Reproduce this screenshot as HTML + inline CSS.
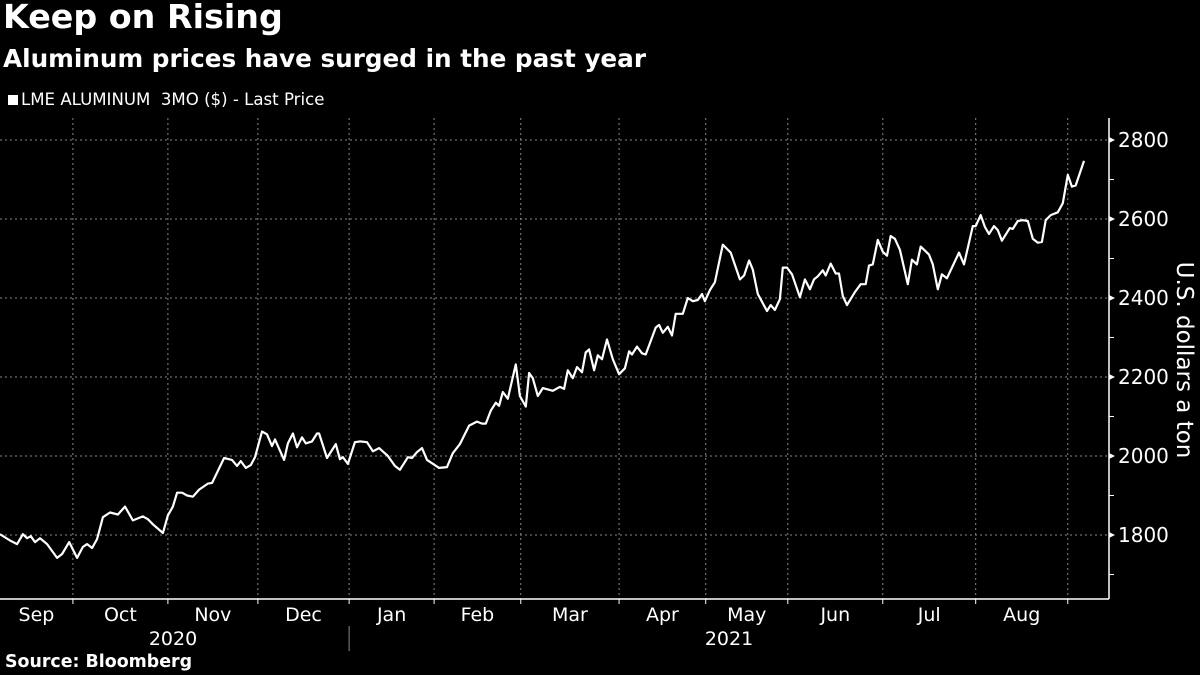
<!DOCTYPE html>
<html><head><meta charset="utf-8"><style>
html,body{margin:0;padding:0;background:#000;}
body{width:1200px;height:675px;overflow:hidden;position:relative;font-family:"DejaVu Sans","Liberation Sans",sans-serif;color:#fff;}
.t{position:absolute;white-space:nowrap;}
</style></head><body>
<div class="t" style="left:3px;top:-3px;font-size:33.3px;font-weight:bold;">Keep on Rising</div>
<div class="t" style="left:3px;top:44px;font-size:24.7px;font-weight:bold;">Aluminum prices have surged in the past year</div>
<div class="t" style="left:8px;top:90px;font-size:16.6px;"><span style="display:inline-block;width:10px;height:10px;background:#fff;margin-right:3px;"></span>LME ALUMINUM&nbsp; 3MO ($) - Last Price</div>
<svg id="chart" width="1200" height="675" style="position:absolute;left:0;top:0;" xmlns="http://www.w3.org/2000/svg"></svg>
<div class="t" style="left:5px;top:652px;font-size:17.4px;font-weight:bold;">Source: Bloomberg</div>
<script>
const days=[0,2.4,4.1,5.5,6.5,7.4,8.4,9.6,11.3,13.7,14.9,16.6,18.5,19.9,20.9,22.1,23.3,24.7,26.4,28.3,30,31.9,34.3,35.5,36.7,39.1,40.3,41.5,42.5,43.7,44.9,46.3,47.8,49.9,50.9,53.8,55.7,56.9,57.8,59,60.2,61.2,62.9,64.1,65.3,66,68.2,69.1,70.3,71.3,72.5,73.4,74.9,76.1,76.6,78.5,80.6,81.6,82.3,83.5,85.2,86.4,88.1,89.5,91,93.1,94.8,96,97.9,98.9,100.1,101.3,102.5,105.4,107.3,108.7,110.4,112.6,114.5,115.7,116.6,117.8,119,119.8,120.7,121.9,123.8,124.8,126.2,127,127.9,129.1,130.3,132.7,134.4,135.4,136.3,137.5,138.5,139.7,140.6,141.4,142.6,143.5,144.5,145.7,147.1,148.6,150,151,151.7,152.9,154.1,155,157.4,158.2,159.1,160.3,161.3,162.2,163.9,165.1,166.3,167.5,168.5,169.2,170.4,171.6,173.5,175.4,177.6,178.6,179.8,180.7,181.9,184.1,185,186,187.2,187.9,188.9,190.1,192,193.2,194.4,195.4,196.3,197.5,198.2,199.4,200.6,201.4,202.3,203.3,205.2,206.6,207.8,208.6,209.5,210.7,211.9,212.9,213.8,214.8,216,217.9,218.9,220.1,221,223,223.9,225.1,226.1,227.3,230.2,231.4,233.5,234.2,235.4,236.4,237.4,238.6,239.5,240.5,242.4,243.1,244.3,245.5,246.7,247.9,249.1,250.1,251,252.2,253.9,255.1,256.3,257.3,258.2,260.2];
const prices=[1802,1786,1777,1802,1792,1797,1782,1792,1777,1742,1752,1782,1742,1770,1777,1767,1790,1845,1857,1852,1872,1837,1847,1840,1827,1805,1850,1872,1907,1907,1900,1897,1915,1930,1932,1995,1990,1975,1987,1970,1977,1997,2062,2055,2025,2042,1990,2032,2057,2022,2047,2032,2037,2057,2057,1995,2030,1992,1997,1980,2035,2037,2035,2012,2020,2000,1975,1965,1997,1995,2010,2020,1990,1970,1972,2007,2030,2077,2087,2082,2082,2115,2135,2127,2162,2145,2232,2152,2125,2210,2197,2152,2172,2165,2175,2170,2217,2197,2225,2212,2262,2270,2217,2255,2245,2295,2245,2207,2222,2265,2257,2277,2260,2257,2325,2332,2312,2327,2305,2360,2360,2400,2392,2395,2410,2392,2420,2440,2535,2515,2447,2457,2495,2472,2410,2367,2382,2370,2397,2477,2477,2460,2402,2447,2422,2447,2455,2470,2457,2487,2462,2462,2405,2382,2415,2435,2435,2482,2485,2547,2517,2507,2557,2550,2522,2435,2497,2485,2530,2510,2485,2422,2460,2450,2515,2485,2582,2582,2610,2580,2562,2582,2572,2545,2577,2575,2595,2597,2595,2550,2540,2542,2597,2610,2617,2640,2712,2682,2685,2747];
const monthStarts=[17.5,40.3,61.9,83.8,104.2,125,148.6,169.4,189.1,211.9,234.2,256.3];
const monthLabels=["Sep","Oct","Nov","Dec","Jan","Feb","Mar","Apr","May","Jun","Jul","Aug"];
const yTicks=[1800,2000,2200,2400,2600,2800];
const yMinor=[1700,1900,2100,2300,2500,2700];
const years=["2020","2021"];

const NS="http://www.w3.org/2000/svg";
const svg=document.getElementById('chart');
const X0=0,X1=1109,D1=266.2;
function xs(d){return X0+(X1-X0)*d/D1;}
function ys(v){return 535-(v-1800)*0.395;}
function mk(tag,attrs,parent){const e=document.createElementNS(NS,tag);for(const k in attrs)e.setAttribute(k,attrs[k]);(parent||svg).appendChild(e);return e;}
const PT=118,PB=599;
yTicks.forEach(v=>{
 const l=mk('line',{x1:0,x2:X1,y1:ys(v),y2:ys(v),stroke:'#888','stroke-width':1,'stroke-dasharray':'2,3'});
 
 
});
monthStarts.forEach((d,i)=>{
 const l=mk('line',{x1:xs(d),x2:xs(d),y1:PT,y2:PB,stroke:'#888','stroke-width':1,'stroke-dasharray':'2,3'});
 
 
 const t=mk('line',{x1:xs(d),x2:xs(d),y1:PB,y2:PB+5,stroke:'#fff','stroke-width':1});
 
 
});
const ax=mk('line',{x1:0,x2:X1,y1:PB,y2:PB,stroke:'#fff','stroke-width':1.5});


const ay=mk('line',{x1:X1,x2:X1,y1:PT,y2:PB,stroke:'#fff','stroke-width':1.5});


yTicks.forEach(v=>{
 const p=mk('path',{d:`M${X1} ${ys(v)-3} L${X1+6} ${ys(v)} L${X1} ${ys(v)+3}Z`,fill:'#fff'});
 
 
 const t=mk('text',{x:X1+9,y:ys(v)+7,fill:'#fff','font-size':20,'font-family':'DejaVu Sans, Liberation Sans, sans-serif'});
 t.textContent=v;
 
 
});
yMinor.forEach(v=>{
 const l=mk('line',{x1:X1,x2:X1+5,y1:ys(v),y2:ys(v),stroke:'#fff','stroke-width':1});
 
 
});
const bounds=[0].concat(monthStarts);
monthLabels.forEach((m,i)=>{
 const c=(xs(bounds[i])+xs(bounds[i+1]))/2;
 const t=mk('text',{x:c,y:621,fill:'#fff','font-size':19,'text-anchor':'middle','font-family':'DejaVu Sans, Liberation Sans, sans-serif'});
 t.textContent=m;
 
 
});
const sep=mk('line',{x1:xs(monthStarts[3]),x2:xs(monthStarts[3]),y1:626,y2:651,stroke:'#888','stroke-width':1});


[[173,years[0]],[729,years[1]]].forEach(([x,y])=>{
 const t=mk('text',{x:x,y:645,fill:'#fff','font-size':19,'text-anchor':'middle','font-family':'DejaVu Sans, Liberation Sans, sans-serif'});
 t.textContent=y;
 
 
});
const yt=mk('text',{x:0,y:0,fill:'#fff','font-size':23,'text-anchor':'middle','transform':'translate(1177,360) rotate(90)','font-family':'DejaVu Sans, Liberation Sans, sans-serif'});
yt.textContent='U.S. dollars a ton';


const d=days.map((t,i)=>(i?'L':'M')+xs(t).toFixed(1)+' '+ys(prices[i]).toFixed(1)).join(' ');
const line=mk('path',{d:d,fill:'none',stroke:'#fff','stroke-width':2.2,'stroke-linejoin':'round'});


</script>
</body></html>
